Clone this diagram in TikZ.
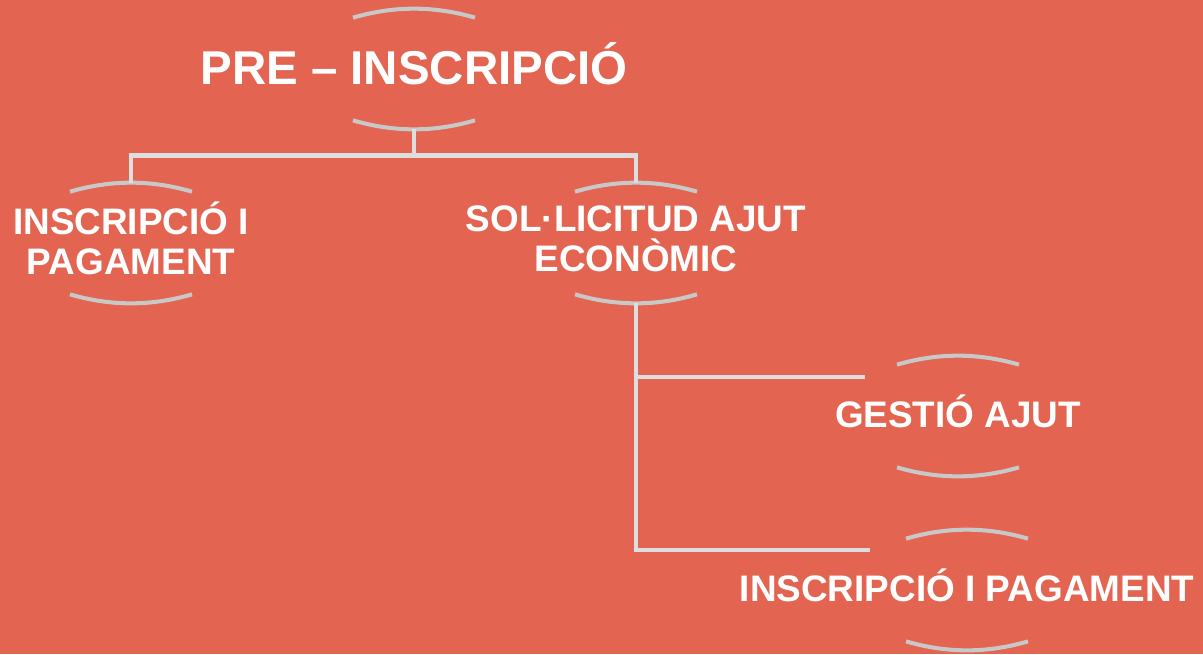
\documentclass[tikz,border=0pt]{standalone}
\usepackage{fontspec}
\setmainfont{Liberation Sans}
\usepackage{tikz}
\usetikzlibrary{positioning,calc}
\definecolor{bgred}{RGB}{227,100,80}
\definecolor{linkgray}{RGB}{222,222,222}
\definecolor{rimgray}{RGB}{200,200,200}
\tikzstyle{link} = [draw=linkgray, line width=2.8pt]
\tikzstyle{rim} = [draw=rimgray, line width=2.3pt]
\tikzstyle{stage} = [text=white, font=\bfseries\fontsize{21}{22.7}\selectfont, align=center, minimum height=2.4cm, inner sep=0pt, text depth=5.4pt]

\begin{document}
\begin{tikzpicture}[x=0.02cm, y=-0.02cm]
           \fill[bgred] (0,0) rectangle (1203,654);
           \useasboundingbox (0,0) rectangle (1203,654);
           \node[stage, font=\bfseries\fontsize{27}{30}\selectfont, text depth=6pt] (pre) at (414,69) {PRE – INSCRIPCIÓ};
           \node[stage] (pay) at (131,243) {INSCRIPCIÓ I\\PAGAMENT};
           \node[stage] (econ) at (636,243) {SOL·LICITUD AJUT\\ECONÒMIC};
           \node[stage] (gest) at (958,416) {GESTIÓ AJUT};
           \node[stage] (pay2) at (967,590) {INSCRIPCIÓ I PAGAMENT};
           \coordinate (gestend) at (865,377);
           \coordinate (pay2end) at (870,550);
           % curved rims above and below each stage
           \foreach \n in {pre,pay,econ,gest,pay2} {
             \draw[rim] ($(\n.north)+(-61,9)$) .. controls ($(\n.north)+(-20,-3)$) and ($(\n.north)+(20,-3)$) .. ($(\n.north)+(61,9)$);
             \draw[rim] ($(\n.south)+(-61,-9)$) .. controls ($(\n.south)+(-20,3)$) and ($(\n.south)+(20,3)$) .. ($(\n.south)+(61,-9)$);
           }
           \path[link] (pre.south) -- ++(0,26);
           \path[link] (pay.north) |- ($(pre.south)+(0,26)$) -| (econ.north);
           \path[link] (econ.south) |- (pay2end);
           \path[link] (econ.south |- gestend) -- (gestend);
        \end{tikzpicture}
\end{document}
